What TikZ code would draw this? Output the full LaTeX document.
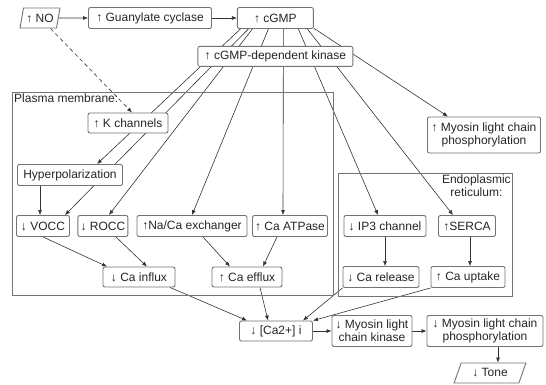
\documentclass[tikz,border=0pt]{standalone}
\usepackage{fontspec}
\setmainfont{Liberation Sans}
\usetikzlibrary{arrows.meta, positioning, shapes.geometric, backgrounds}

\begin{document}
\begin{tikzpicture}[
        x=1pt, y=-1pt,
        font=\fontsize{12}{13}\selectfont,
        box/.style={draw=black!55, line width=0.9pt, rounded corners=2pt, fill=white, text=black!85, align=center, minimum height=21pt, inner sep=1pt},
        slanted/.style={trapezium, trapezium stretches=true, trapezium left angle=75, trapezium right angle=105, draw=black!55, line width=0.9pt, fill=white, text=black!85, minimum height=20pt, inner xsep=0pt, inner ysep=1pt},
        region/.style={draw=black!55, line width=0.9pt},
        arrow/.style={-{Latex[length=5pt, width=4pt]}, draw=black!80, line width=0.6pt}
    ]
    \useasboundingbox (0,0) rectangle (546,384);

    % Regions
    \node[region, minimum width=321pt, minimum height=203pt, anchor=north west] (pm) at (12,92) {};
    \node[region, minimum width=174pt, minimum height=123pt, anchor=north west] (er) at (338,173) {};
    \node[anchor=north west, inner sep=2pt, text=black!85] (pmlabel) at (pm.north west) {Plasma membrane:};
    \node[anchor=north east, align=center, inner sep=2pt, text=black!85] (erlabel) at (er.north east) {Endoplasmic\\reticulum:};

    % Nodes - top
    \node[slanted, minimum width=40pt] (no) at (40,18) {↑ NO};
    \node[box, minimum width=123pt] (gc) at (150,18) {↑ Guanylate cyclase};
    \node[box, minimum width=76pt, right=25pt of gc] (cgmp) {↑ cGMP};
    \node[box, minimum width=155pt, minimum height=20pt, below=17pt of cgmp] (kin) {↑ cGMP-dependent kinase};
    \node[box, minimum width=113pt, minimum height=36pt] (mlcup) at (484,135) {↑ Myosin light chain\\phosphorylation};

    % Nodes - plasma membrane
    \node[box, minimum width=80pt, minimum height=20pt] (kch) at (128,123) {↑ K channels};
    \node[box, minimum width=105pt] (hyp) at (70,175) {Hyperpolarization};
    \node[box, minimum width=53pt] (vocc) at (43,226) {↓ VOCC};
    \node[box, minimum width=50pt, right=7.5pt of vocc] (rocc) {↓ ROCC};
    \node[box, minimum width=110pt] (naca) at (192,226) {↑Na/Ca exchanger};
    \node[box, minimum width=75pt] (atp) at (290,226) {↑ Ca ATPase};
    \node[box, minimum width=72pt, minimum height=20pt] (influx) at (139,277) {↓ Ca influx};
    \node[box, minimum width=70pt, minimum height=20pt] (efflux) at (247,277) {↑ Ca efflux};

    % Nodes - endoplasmic reticulum
    \node[box, minimum width=82pt] (ip3) at (385,226) {↓ IP3 channel};
    \node[box, minimum width=57pt] (serca) at (467,226) {↑SERCA};
    \node[box, minimum width=76pt] (release) at (381,277) {↓ Ca release};
    \node[box, minimum width=74pt] (uptake) at (468,277) {↑ Ca uptake};

    % Nodes - bottom
    \node[box, minimum width=73pt, minimum height=20pt] (ca) at (276,331) {↓ [Ca2+] i};
    \node[box, minimum width=80pt, minimum height=31pt] (mlck) at (372,331) {↓ Myosin light\\chain kinase};
    \node[box, minimum width=116pt, minimum height=31pt] (mlcp) at (485,331) {↓ Myosin light chain\\phosphorylation};
    \node[slanted, trapezium left angle=68, trapezium right angle=112, minimum width=72pt] (tone) at (490,373) {↓ Tone};

    \begin{scope}[on background layer]
    % Arrows - NO pathway
    \draw[arrow] (no) -- (gc);
    \draw[arrow] (gc) -- (cgmp);
    \draw[arrow, dash pattern=on 4pt off 3pt] (no.south east) -- ([xshift=4pt]kch.north);

    % Arrows - cGMP targets
    \draw[arrow] ([xshift=-35pt]cgmp.south) -- ([xshift=27pt]hyp.north);
    \draw[arrow] ([xshift=-27pt]cgmp.south) -- ([xshift=22pt]vocc.north);
    \draw[arrow] ([xshift=-23pt]cgmp.south) -- ([xshift=6pt]rocc.north);
    \draw[arrow] ([xshift=-7pt]cgmp.south) -- (naca.north);
    \draw[arrow] ([xshift=8pt]cgmp.south) -- ([xshift=-7pt]atp.north);
    \draw[arrow] ([xshift=23pt]cgmp.south) -- ([xshift=-7pt]ip3.north);
    \draw[arrow] ([xshift=32pt]cgmp.south) -- ([xshift=-14pt]serca.north);
    \draw[arrow] (cgmp.-15) -- ([xshift=-36pt]mlcup.north);

    % Arrows - channels
    \draw[arrow] ([xshift=-30pt]hyp.south) -- ([xshift=-3pt]vocc.north);
    \draw[arrow] (vocc.south) -- ([xshift=-32pt]influx.north);
    \draw[arrow] ([xshift=13pt]rocc.south) -- ([xshift=8pt]influx.north);
    \draw[arrow] ([xshift=11pt]naca.south) -- ([xshift=-17pt]efflux.north);
    \draw[arrow] ([xshift=-13pt]atp.south) -- ([xshift=16pt]efflux.north);
    \draw[arrow] (ip3.south) -- (ip3.south |- release.north);
    \draw[arrow] ([xshift=3pt]serca.south) -- ([xshift=3pt]serca.south |- uptake.north);

    % Arrows - calcium
    \draw[arrow] ([xshift=31pt]influx.south) -- ([xshift=-29pt]ca.north);
    \draw[arrow] ([xshift=13pt]efflux.south) -- ([xshift=-8pt]ca.north);
    \draw[arrow] (release.south west) -- ([xshift=27pt]ca.north);
    \draw[arrow] (uptake.south west) -- (ca.north east);
    \draw[arrow] (ca) -- (mlck);
    \draw[arrow] (mlck) -- (mlcp);
    \draw[arrow] ([xshift=13pt]mlcp.south) -- ([xshift=13pt]mlcp.south |- tone.north);
    \end{scope}

\end{tikzpicture}
\end{document}
